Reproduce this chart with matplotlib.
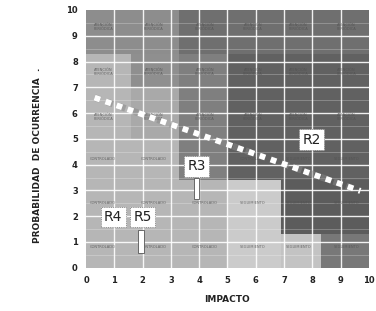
import numpy as np
import matplotlib
matplotlib.use('Agg')
import matplotlib.pyplot as plt
from matplotlib.patches import Rectangle

# shaded zones of the risk matrix (data coords) and their gray tone
zone_x0 = [0.0, 0.0, 3.3, 1.6, 1.6, 3.3, 5.0, 6.9, 5.0, 6.9, 8.3]
zone_x1 = [10.0, 3.3, 10.0, 3.3, 3.3, 5.0, 10.0, 10.0, 6.9, 8.3, 10.0]
zone_y0 = [0.0, 8.3, 8.3, 7.0, 5.0, 3.4, 3.4, 1.3, 0.0, 0.0, 0.0]
zone_y1 = [10.0, 10.0, 10.0, 8.3, 7.0, 8.3, 8.3, 3.4, 3.4, 1.3, 1.3]
zone_gray = ['#b6b6b6', '#8d8d8d', '#6f6f6f', '#8f8f8f', '#a9a9a9', '#7f7f7f',
             '#616161', '#5c5c5c', '#cbcbcb', '#c3c3c3', '#787878']

# cell captions ('' where a risk label hides it)
cap_x = [0.6, 2.4, 4.2, 5.9, 7.5, 9.2]
cap_y = [9.35, 7.6, 5.85, 4.2, 2.5, 0.8]
cap_rows = [
    ['ATENCIÓN\nPERIÓDICA'] * 6,
    ['ATENCIÓN\nPERIÓDICA'] * 6,
    ['ATENCIÓN\nPERIÓDICA'] * 6,
    ['CONTROLADO', 'CONTROLADO', '', 'CONTROLADO', 'SEGUIMIENTO', 'SEGUIMIENTO'],
    ['CONTROLADO'] * 3 + ['SEGUIMIENTO'] * 3,
    ['CONTROLADO'] * 3 + ['SEGUIMIENTO'] * 3,
]

# dotted threshold line
line_x = [0.3, 9.7]
line_y = [6.6, 2.98]

# risk labels
risk_names = ['R2', 'R3', 'R4', 'R5']
risk_x = [7.97, 3.91, 0.96, 1.99]
risk_y = [4.96, 3.93, 1.97, 1.97]
# stems under labels
stem_x = [3.91, 1.93]
stem_top = [3.5, 1.45]
stem_bot = [2.65, 0.58]

ticks = list(range(0, 11))

fig = plt.figure(figsize=(3.76, 3.11), dpi=100)
fig.patch.set_facecolor('white')
ax = fig.add_axes([0.229, 0.139, 0.752, 0.829])

for i in range(len(zone_x0)):
    ax.add_patch(Rectangle((zone_x0[i], zone_y0[i]), zone_x1[i] - zone_x0[i],
                           zone_y1[i] - zone_y0[i], facecolor=zone_gray[i],
                           edgecolor='none', zorder=0))

# grid
for t in np.arange(0.5, 10, 1.0):
    ax.axhline(t, color='white', lw=0.5, alpha=0.35, zorder=1)
for t in ticks[1:-1]:
    ax.axhline(t, color='white', lw=1.0, alpha=0.9, zorder=1)
    ax.axvline(t, color='white', lw=1.0, alpha=0.9, zorder=1)

for r, row in enumerate(cap_rows):
    for c, txt in enumerate(row):
        if txt:
            ax.text(cap_x[c], cap_y[r], txt, fontsize=2.6, color='#505050', alpha=0.8,
                    ha='center', va='center', linespacing=1.0, zorder=2)

ax.plot(line_x, line_y, color='#888888', lw=4.8, ls=(0, (0.9, 1.1)),
        dash_capstyle='butt', alpha=0.5, zorder=3)
ax.plot(line_x, line_y, color='white', lw=4.2, ls=(0, (1, 1)),
        dash_capstyle='butt', zorder=4)

for i in range(len(stem_x)):
    ax.add_patch(Rectangle((stem_x[i] - 0.1, stem_bot[i]), 0.2, stem_top[i] - stem_bot[i],
                           facecolor='white', edgecolor='#555555', lw=0.6, zorder=5))

for i in range(len(risk_names)):
    ax.text(risk_x[i], risk_y[i], risk_names[i], fontsize=10, color='#222222',
            ha='center', va='center', zorder=6,
            bbox=dict(boxstyle='square,pad=0.25', facecolor='white',
                      edgecolor='#777777', lw=0.6, linestyle=':'))

ax.set_xlim(0, 10)
ax.set_ylim(0, 10)
ax.set_xticks(ticks)
ax.set_yticks(ticks)
ax.tick_params(length=0, labelsize=6, pad=6)
for lab in ax.get_xticklabels() + ax.get_yticklabels():
    lab.set_fontweight('bold')
    lab.set_color('#222222')
for s in ax.spines.values():
    s.set_visible(False)

ax.set_xlabel('IMPACTO', fontsize=6.5, fontweight='bold', color='#222222', labelpad=7)
fig.text(0.101, 0.50, 'PROBABILIDAD  DE OCURRENCIA  .', rotation=90, fontsize=6.5,
         fontweight='bold', color='#222222', ha='center', va='center')

fig.savefig('out.png', dpi=100, facecolor='white')
